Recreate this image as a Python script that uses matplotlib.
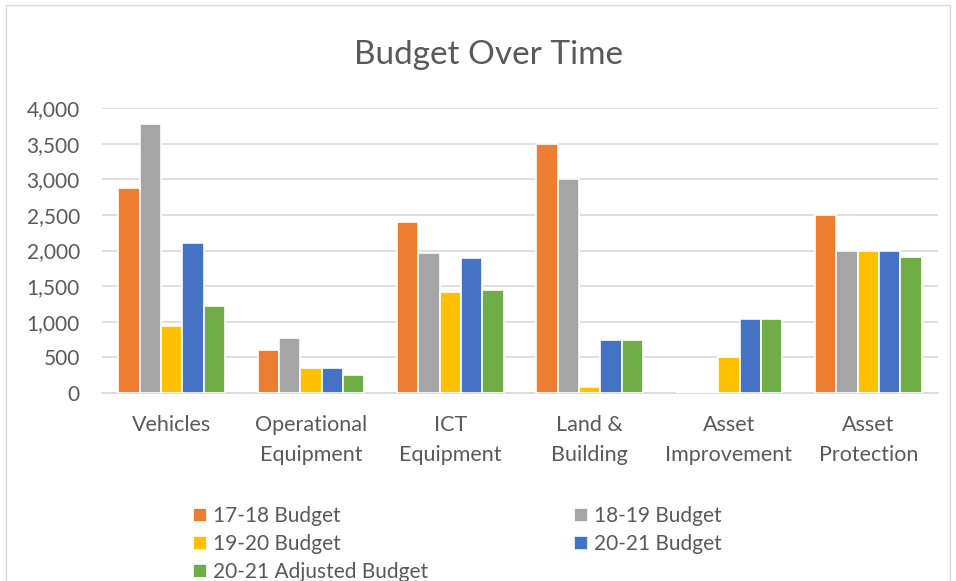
import numpy as np
import matplotlib.pyplot as plt
from matplotlib.patches import Rectangle
from matplotlib.ticker import FuncFormatter

plt.rcParams['font.family'] = ['Lato', 'DejaVu Sans']

# data
categories = ["Vehicles", "Operational\nEquipment", "ICT\nEquipment", "Land &\nBuilding",
              "Asset\nImprovement", "Asset\nProtection"]
series_names = ["17-18 Budget", "18-19 Budget", "19-20 Budget", "20-21 Budget", "20-21 Adjusted Budget"]
b1718 = [2880, 600, 2400, 3500, 0, 2500]
b1819 = [3780, 770, 1960, 3000, 0, 2000]
b1920 = [940, 356, 1420, 90, 500, 2000]
b2021 = [2110, 356, 1890, 750, 1040, 2000]
b2021adj = [1226, 253, 1440, 750, 1040, 1910]
colors = ["#ED7D31", "#A5A5A5", "#FFC000", "#4472C4", "#70AD47"]

values = [b1718, b1819, b1920, b2021, b2021adj]
txt = "#595959"

fig = plt.figure(figsize=(9.56, 5.81), dpi=100)
# outer chart border (bottom runs off the image)
fig.patches.append(Rectangle((6/956, -0.05), 944/956, 1.05 - 5/581, transform=fig.transFigure,
                             fill=False, edgecolor="#d9d9d9", linewidth=1))

ax = fig.add_axes([102/956, 188/581, 836/956, 285/581])
x = np.arange(len(categories))
slot = 0.153
bars = []
for i in range(5):
    b = ax.bar(x + (i - 2) * slot, values[i], width=slot, color=colors[i],
               edgecolor="white", linewidth=1.2, label=series_names[i], zorder=3)
    bars.append(b)

ax.set_xlim(-0.5, len(categories) - 0.5)
ax.set_ylim(0, 4000)
ax.set_yticks(np.arange(0, 4001, 500))
ax.yaxis.set_major_formatter(FuncFormatter(lambda v, p: "{:,.0f}".format(v)))
ax.set_xticks(x)
ax.set_xticklabels(categories, fontsize=15.5, color=txt, linespacing=1.6)
ax.tick_params(axis="y", labelsize=15, labelcolor=txt, length=0, pad=16)
ax.tick_params(axis="x", length=0, pad=16)
ax.grid(axis="y", color="#d9d9d9", linewidth=1.2, zorder=0)
for s in ["top", "right", "left"]:
    ax.spines[s].set_visible(False)
ax.spines["bottom"].set_color("#d9d9d9")
ax.spines["bottom"].set_linewidth(1.2)

fig.text(488/956, 1 - 55/581, "Budget Over Time", ha="center", va="center", fontsize=24, color=txt)

# legend filled column-wise, so reorder to read row by row
order = [0, 2, 4, 1, 3]
leg = fig.legend([bars[i] for i in order], [series_names[i] for i in order], ncol=2,
                 loc="upper left", bbox_to_anchor=(183/956, 1 - 496/581), frameon=False,
                 fontsize=15, labelcolor=txt, handlelength=0.65, handleheight=0.65,
                 handletextpad=0.3, labelspacing=0.38, columnspacing=7.0, borderpad=0)

fig.savefig("out.png", dpi=100)
